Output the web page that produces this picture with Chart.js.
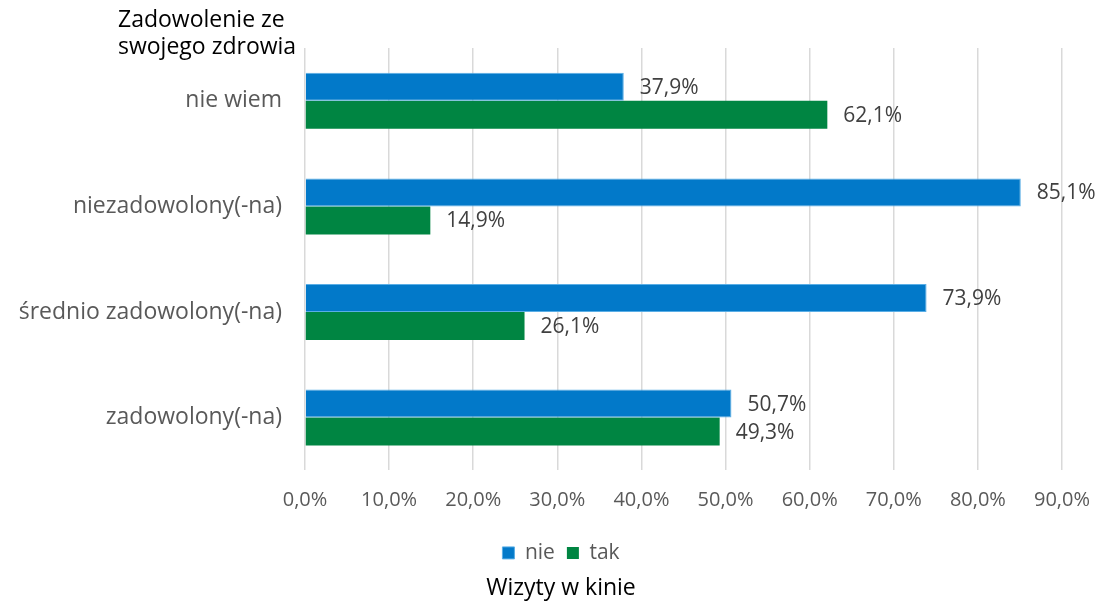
<!DOCTYPE html>
<html lang="pl">
<head>
<meta charset="utf-8">
<title>Wizyty w kinie</title>
<script src="https://cdn.jsdelivr.net/npm/chart.js@4"></script>
<style>
  html, body { margin: 0; padding: 0; background: #fff; }
  #wrap { position: relative; width: 1097px; height: 604px; }
</style>
</head>
<body>
<div id="wrap"><canvas id="kino"></canvas></div>
<script>
// dane
var kategorie = ['nie wiem', 'niezadowolony(-na)', 'średnio zadowolony(-na)', 'zadowolony(-na)'];
var nie = [37.9, 85.1, 73.9, 50.7];
var tak = [62.1, 14.9, 26.1, 49.3];
var tytulY = ['Zadowolenie ze', 'swojego zdrowia'];
var tytulX = 'Wizyty w kinie';

var FONT = "'Open Sans', 'Noto Sans', sans-serif";

function procent(v) {
  return v.toFixed(1).replace('.', ',') + '%';
}

// etykiety wartosci przy slupkach
var etykiety = {
  id: 'etykiety',
  afterDatasetsDraw: function(chart) {
    var ctx = chart.ctx;
    ctx.save();
    ctx.font = '21px ' + FONT;
    ctx.fillStyle = '#404040';
    ctx.textAlign = 'left';
    ctx.textBaseline = 'middle';
    chart.data.datasets.forEach(function(ds, i) {
      chart.getDatasetMeta(i).data.forEach(function(bar, j) {
        ctx.fillText(procent(ds.data[j]), bar.x + 16, bar.y + 1);
      });
    });
    ctx.restore();
  }
};

// tytul osi Y nad etykietami
var tytulOsiY = {
  id: 'tytulOsiY',
  afterDraw: function(chart) {
    var ctx = chart.ctx;
    var a = chart.chartArea;
    ctx.save();
    ctx.font = '23px ' + FONT;
    ctx.fillStyle = '#000';
    ctx.textAlign = 'left';
    ctx.textBaseline = 'middle';
    ctx.fillText(tytulY[0], a.left - 187, 20);
    ctx.fillText(tytulY[1], a.left - 187, 47);
    ctx.restore();
  }
};

// legenda i tytul dolny lekko w prawo (jak w oryginale)
var przesun = {
  id: 'przesun',
  afterLayout: function(chart) {
    var d = 30;
    [chart.legend, chart.titleBlock].forEach(function(b) {
      if (b) { b.left += d; b.right += d; }
    });
  }
};

var ctx = document.getElementById('kino').getContext('2d');
new Chart(ctx, {
  type: 'bar',
  data: {
    labels: kategorie,
    datasets: [
      { label: 'nie', data: nie, backgroundColor: '#0279c9', borderColor: '#5aaee6', borderWidth: 1,
        barPercentage: 1.0, categoryPercentage: 0.53 },
      { label: 'tak', data: tak, backgroundColor: '#008542', borderWidth: 0,
        barPercentage: 1.0, categoryPercentage: 0.53 }
    ]
  },
  options: {
    indexAxis: 'y',
    responsive: true,
    maintainAspectRatio: false,
    animation: false,
    layout: { padding: { top: 48, right: 35, left: 0, bottom: 0 } },
    scales: {
      x: {
        min: 0, max: 90,
        grid: { color: '#d9d9d9', lineWidth: 1.5, drawTicks: false },
        border: { display: false },
        ticks: {
          stepSize: 10, padding: 18,
          color: '#595959', font: { size: 20, family: FONT },
          callback: function(v) { return procent(v); }
        },
        afterFit: function(s) { s.height = 60; s.paddingLeft = 0; s.paddingRight = 0; }
      },
      y: {
        grid: { display: false },
        border: { display: false },
        ticks: { color: '#595959', font: { size: 23, family: FONT }, padding: 15 },
        afterFit: function(s) { s.width = 305; }
      }
    },
    plugins: {
      legend: {
        position: 'bottom',
        labels: {
          boxWidth: 12, boxHeight: 12, padding: 12,
          color: '#595959', font: { size: 21, family: FONT }
        }
      },
      title: {
        display: true, position: 'bottom', text: tytulX,
        color: '#000', font: { size: 23, family: FONT, weight: 'normal' },
        padding: { top: 1, bottom: 2 }
      },
      tooltip: { enabled: false }
    }
  },
  plugins: [etykiety, tytulOsiY, przesun]
});
</script>
</body>
</html>
